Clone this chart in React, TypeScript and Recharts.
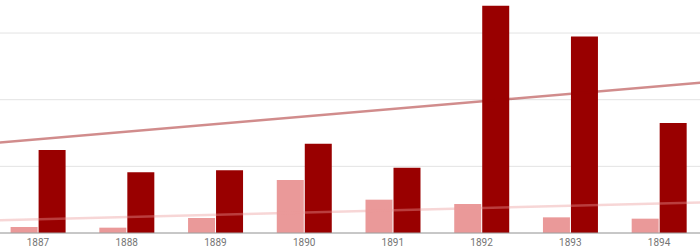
import { ComposedChart, Bar, Line, XAxis, YAxis, CartesianGrid } from "recharts";

const years = ["1887", "1888", "1889", "1890", "1891", "1892", "1893", "1894"];
const seriesA = [0.09, 0.08, 0.225, 0.795, 0.5, 0.435, 0.235, 0.215];
const seriesB = [1.245, 0.91, 0.94, 1.34, 0.98, 3.41, 2.95, 1.65];
const yTicks = [0, 1, 2, 3, 4];

// trend lines, read at the two band edges of the plot
const trendA = [
  { t: -0.5, v: 0.19 },
  { t: 7.5, v: 0.46 },
];
const trendB = [
  { t: -0.5, v: 1.35 },
  { t: 7.5, v: 2.26 },
];

const data = years.map((year, i) => ({ year, a: seriesA[i], b: seriesB[i] }));

export default function App() {
  return (
    <div style={{ width: 700, height: 250 }}>
      <style>{"body{margin:0}"}</style>
      <ComposedChart
        width={700}
        height={250}
        data={data}
        barGap={1}
        margin={{ top: -33.6, right: -3.4, left: -6.4, bottom: 0 }}
      >
        <CartesianGrid vertical={false} stroke="#e3e3e3" />
        <XAxis
          dataKey="year"
          height={17}
          tickLine={false}
          tickSize={4}
          tickMargin={2}
          axisLine={{ stroke: "#9e9e9e" }}
          tick={{ fill: "#757575", fontSize: 10, fontFamily: "Roboto" }}
          interval={0}
        />
        <XAxis
          xAxisId="trend"
          dataKey="t"
          type="number"
          domain={[-0.5, 7.5]}
          allowDataOverflow
          hide
        />
        <YAxis hide domain={[0, 4]} ticks={yTicks} />
        <Bar dataKey="a" fill="#ea9999" barSize={27} isAnimationActive={false} />
        <Bar dataKey="b" fill="#990000" barSize={27} isAnimationActive={false} />
        <Line
          xAxisId="trend"
          data={trendA}
          dataKey="v"
          stroke="#ea9999"
          strokeOpacity={0.4}
          strokeWidth={2.5}
          dot={false}
          activeDot={false}
          isAnimationActive={false}
        />
        <Line
          xAxisId="trend"
          data={trendB}
          dataKey="v"
          stroke="#990000"
          strokeOpacity={0.45}
          strokeWidth={2.5}
          dot={false}
          activeDot={false}
          isAnimationActive={false}
        />
      </ComposedChart>
    </div>
  );
}
